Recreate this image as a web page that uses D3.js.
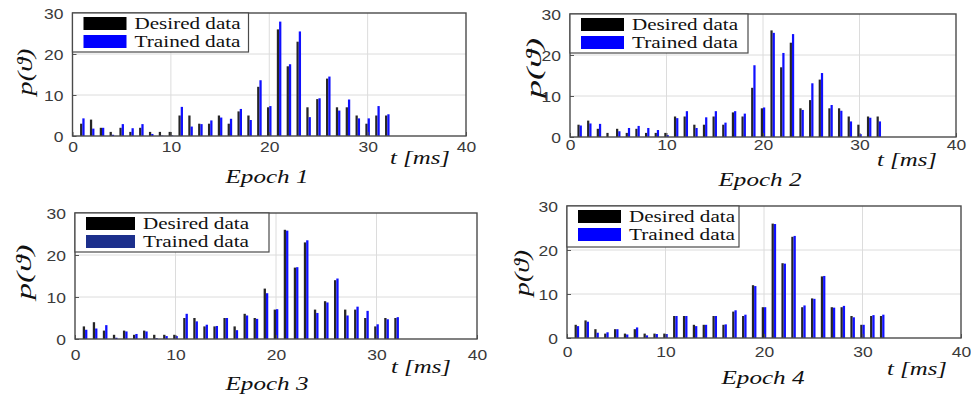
<!DOCTYPE html>
<html>
<head>
<meta charset="utf-8">
<script src="https://cdn.jsdelivr.net/npm/d3@7"></script>
<style>
  html, body { margin: 0; padding: 0; background: #fff; }
  svg { display: block; }
</style>
</head>
<body>
<script>
// time bins [ms]
const times = [1, 2, 3, 4, 5, 6, 7, 8, 9, 10, 11, 12, 13, 14, 15, 16,
  17, 18, 19, 20, 21, 22, 23, 24, 25, 26, 27, 28, 29, 30, 31, 32];

// desired histogram (same target in every epoch)
const desired = [3, 4, 2, 1, 2, 1, 2, 1, 1, 1, 5, 5, 3, 3, 5, 3,
  6, 5, 12, 7, 26, 17, 23, 7, 9, 14, 7, 7, 5, 3, 5, 5];

// trained histograms, one per epoch
const trained1 = [4.3, 1.8, 2.0, 0.3, 2.9, 1.9, 2.9, 0.5, 0.1, 0.15, 7.1, 2.3, 2.9, 3.8, 4.5, 4.2,
  6.6, 3.9, 13.6, 7.3, 27.9, 17.5, 25.5, 4.6, 9.2, 14.5, 6.2, 8.9, 4.3, 4.3, 7.3, 5.3];
const trained2 = [2.8, 3.3, 3.2, 0, 1.4, 2.2, 2.7, 2.2, 1.7, 0.5, 4.6, 6.3, 2.2, 4.8, 6.3, 3.5,
  6.3, 5.7, 17.5, 7.2, 25.4, 20.5, 25.1, 6.6, 13.1, 15.6, 7.8, 6.4, 3.8, 0.7, 4.7, 3.8];
const trained3 = [2.2, 2.5, 3.3, 0.3, 1.8, 1.2, 1.8, 0.2, 0.7, 0.7, 6.0, 4.2, 3.4, 3.1, 5.0, 2.1,
  5.6, 4.8, 10.9, 7.1, 25.8, 17.1, 23.5, 6.2, 8.7, 14.4, 5.6, 7.7, 6.7, 3.5, 4.7, 5.2];
const trained4 = [2.7, 3.7, 1.2, 1.3, 2.0, 0.8, 2.4, 0.6, 0.9, 0.9, 5.0, 5.0, 2.7, 3.0, 5.0, 3.1,
  6.3, 5.3, 11.8, 7.0, 25.9, 16.9, 23.2, 7.4, 8.9, 14.1, 6.9, 7.3, 4.7, 3.0, 5.2, 5.3];

const trainedSets = [trained1, trained2, trained3, trained4];
const epochLabels = ["Epoch 1", "Epoch 2", "Epoch 3", "Epoch 4"];
const seriesNames = ["Desired data", "Trained data"];
const xTicks = [0, 10, 20, 30, 40];
const yTicks = [0, 10, 20, 30];

// panel layout (pixels)
const panels = [
  { l: 72.5, r: 466, t: 13, b: 136, legW: 176, legH: 39, ylab: [25, 72, 47], tx: 420, tb: 164, eb: 183, ex: 267, tickB: 152, legBlue: "#0000ff" },
  { l: 570, r: 956, t: 14, b: 137, legW: 178, legH: 39, ylab: [534, 68, 60], tx: 907, tb: 166, eb: 186, ex: 760, tickB: 150, legBlue: "#0000ff" },
  { l: 75, r: 477, t: 213, b: 339, legW: 194, legH: 39, ylab: [24, 272, 55], tx: 421, tb: 373, eb: 390, ex: 267, tickB: 360, legBlue: "#1c2f8c" },
  { l: 567, r: 961, t: 206, b: 338, legW: 172, legH: 41, ylab: [522, 273, 46], tx: 917, tb: 375, eb: 384, ex: 763, tickB: 357, legBlue: "#0000ff" }
];

const W = 971, H = 394;
const svg = d3.select("body").append("svg").attr("width", W).attr("height", H);
svg.append("rect").attr("width", W).attr("height", H).attr("fill", "#fff");

const serif = "'Liberation Serif', 'Times New Roman', serif";
const sans = "'Liberation Sans', Arial, sans-serif";

panels.forEach((p, i) => {
  const x = d3.scaleLinear().domain([0, 40]).range([p.l, p.r]);
  const y = d3.scaleLinear().domain([0, 30]).range([p.b, p.t]);
  const g = svg.append("g");

  // grid
  g.append("g").selectAll("line").data(xTicks.slice(1, -1)).join("line")
    .attr("x1", d => x(d)).attr("x2", d => x(d)).attr("y1", p.t).attr("y2", p.b)
    .attr("stroke", "#dcdcdc").attr("stroke-width", 1);
  g.append("g").selectAll("line").data(yTicks.slice(1, -1)).join("line")
    .attr("y1", d => y(d)).attr("y2", d => y(d)).attr("x1", p.l).attr("x2", p.r)
    .attr("stroke", "#dcdcdc").attr("stroke-width", 1);

  // bars
  const trained = trainedSets[i];
  const bw = 0.23;
  g.append("g").selectAll("rect").data(times).join("rect")
    .attr("x", d => x(d - bw)).attr("width", x(bw) - x(0))
    .attr("y", (d, j) => y(desired[j])).attr("height", (d, j) => y(0) - y(desired[j]))
    .attr("fill", "#262626");
  g.append("g").selectAll("rect").data(times).join("rect")
    .attr("x", d => x(d)).attr("width", x(bw) - x(0))
    .attr("y", (d, j) => y(trained[j])).attr("height", (d, j) => y(0) - y(trained[j]))
    .attr("fill", "#1010ff");

  // axes
  const xa = g.append("g").attr("transform", `translate(0,${p.b})`)
    .call(d3.axisBottom(x).tickValues(xTicks).tickSize(-4).tickFormat(d3.format("d")));
  const ya = g.append("g").attr("transform", `translate(${p.l},0)`)
    .call(d3.axisLeft(y).tickValues(yTicks).tickSize(-4).tickFormat(d3.format("d")));
  [xa, ya].forEach(a => {
    a.select(".domain").remove();
    a.selectAll(".tick line").attr("stroke", "#555");
    a.selectAll("text").attr("font-family", sans).attr("font-size", 14).attr("fill", "#3a3a3a");
  });
  xa.selectAll("text").attr("y", p.tickB - p.b).attr("dy", null)
    .attr("transform", "scale(1.25,1)");
  ya.selectAll("text").attr("x", -9 / 1.25).attr("dy", "0.36em")
    .attr("transform", "scale(1.25,1)");

  // box
  g.append("rect").attr("x", p.l).attr("y", p.t).attr("width", p.r - p.l).attr("height", p.b - p.t)
    .attr("fill", "none").attr("stroke", "#4a4a4a").attr("stroke-width", 1.4);

  // legend
  const lg = g.append("g").attr("transform", `translate(${p.l},${p.t})`);
  lg.append("rect").attr("width", p.legW).attr("height", p.legH)
    .attr("fill", "#fff").attr("stroke", "#4a4a4a").attr("stroke-width", 1.2);
  const swW = p.legW > 185 ? 49 : 43;
  [["#000", 4], [p.legBlue, 22]].forEach((s, k) => {
    lg.append("rect").attr("x", 11).attr("y", s[1]).attr("width", swW).attr("height", 13).attr("fill", s[0]);
    lg.append("text").attr("x", swW + 19).attr("y", s[1] + 12)
      .attr("font-family", serif).attr("font-size", 17).attr("fill", "#111")
      .attr("textLength", 106).attr("lengthAdjust", "spacingAndGlyphs")
      .text(seriesNames[k]);
  });

  // y label
  svg.append("text")
    .attr("transform", `translate(${p.ylab[0] + 7},${p.ylab[1]}) rotate(-90)`)
    .attr("text-anchor", "middle").attr("font-family", serif).attr("font-style", "italic")
    .attr("font-size", 21).attr("fill", "#111")
    .attr("textLength", p.ylab[2]).attr("lengthAdjust", "spacingAndGlyphs")
    .text("p(\u03d1)");

  // x label
  svg.append("text").attr("x", p.tx).attr("y", p.tb).attr("text-anchor", "middle")
    .attr("font-family", serif).attr("font-style", "italic").attr("font-size", 19).attr("fill", "#111")
    .attr("textLength", 60).attr("lengthAdjust", "spacingAndGlyphs")
    .text("t [ms]");

  // epoch title
  svg.append("text").attr("x", p.ex).attr("y", p.eb).attr("text-anchor", "middle")
    .attr("font-family", serif).attr("font-style", "italic").attr("font-size", 19).attr("fill", "#111")
    .attr("textLength", 83).attr("lengthAdjust", "spacingAndGlyphs")
    .text(epochLabels[i]);
});
</script>
</body>
</html>
